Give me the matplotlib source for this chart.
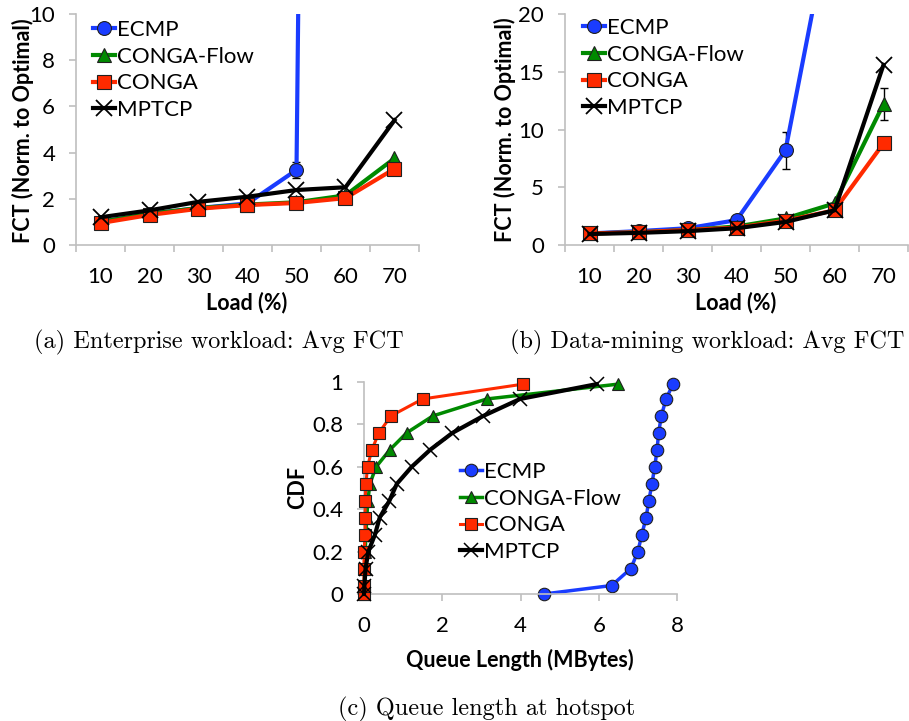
import numpy as np
import matplotlib
matplotlib.use('Agg')
import matplotlib.pyplot as plt

plt.rcParams['font.family'] = ['Lato', 'DejaVu Sans']

# ---- data ----
loads = [10, 20, 30, 40, 50, 60, 70]
series = ['ECMP', 'CONGA-Flow', 'CONGA', 'MPTCP']

# (a) enterprise workload, avg FCT (ECMP goes off-scale after 50%)
ent_ecmp = [1.0, 1.35, 1.6, 1.8, 3.25, 200.0, 1000.0]
ent_flow = [1.0, 1.35, 1.6, 1.75, 1.85, 2.15, 3.75]
ent_conga = [0.95, 1.3, 1.57, 1.73, 1.82, 2.03, 3.3]
ent_mptcp = [1.2, 1.5, 1.87, 2.09, 2.38, 2.5, 5.4]
ent_ecmp_err = [0, 0, 0, 0, 0.35, 0, 0]

# (b) data-mining workload, avg FCT
dm_ecmp = [1.0, 1.2, 1.45, 2.15, 8.2, 30.0, 60.0]
dm_flow = [1.0, 1.1, 1.3, 1.6, 2.3, 3.6, 12.2]
dm_conga = [1.0, 1.1, 1.3, 1.5, 2.1, 3.0, 8.8]
dm_mptcp = [0.95, 1.05, 1.2, 1.45, 2.0, 3.0, 15.6]
dm_ecmp_err = [0, 0, 0, 0, 1.6, 0, 0]
dm_flow_err = [0, 0, 0, 0, 0, 0, 1.4]

# (c) queue length CDF at hotspot
cdf = [0.0, 0.04, 0.12, 0.2, 0.28, 0.36, 0.44, 0.52, 0.6, 0.68, 0.76, 0.84, 0.92, 0.99]
q_ecmp = [4.6, 6.33, 6.82, 7.0, 7.1, 7.21, 7.28, 7.36, 7.43, 7.49, 7.53, 7.6, 7.72, 7.9]
q_flow = [0.0, 0.01, 0.02, 0.03, 0.05, 0.07, 0.1, 0.15, 0.31, 0.66, 1.09, 1.76, 3.14, 6.5]
q_conga = [0.0, 0.0, 0.0, 0.0, 0.03, 0.03, 0.03, 0.05, 0.09, 0.2, 0.38, 0.69, 1.5, 4.07]
q_mptcp = [0.0, 0.01, 0.04, 0.11, 0.28, 0.4, 0.65, 0.84, 1.22, 1.69, 2.26, 3.05, 3.99, 5.95]

colors = ['#1a3cff', '#008a00', '#ff2a00', '#000000']
markers = ['o', '^', 's', 'x']
grey = '#bfbfbf'

W, H = 909, 721
fig = plt.figure(figsize=(W / 100, H / 100), dpi=100)


def px_axes(l, t, r, b):
    return fig.add_axes([l / W, 1 - b / H, (r - l) / W, (b - t) / H])


def style(ax):
    for s in ['top', 'right']:
        ax.spines[s].set_visible(False)
    for s in ['left', 'bottom']:
        ax.spines[s].set_color(grey)
        ax.spines[s].set_linewidth(1.2)
    ax.tick_params(which='both', color=grey, width=1.2, length=5,
                   labelsize=16, direction='out')


def add_legend(ax, x, y):
    ax.legend(loc='upper left', bbox_to_anchor=(x / W, 1 - y / H),
              bbox_transform=fig.transFigure, frameon=False, fontsize=16,
              handlelength=1.0, handletextpad=0.1, labelspacing=0.3,
              borderpad=0, borderaxespad=0, numpoints=1)


def fct_panel(ax, ymax, ystep, data, errs):
    x = np.arange(len(loads))
    for i, vals in enumerate(data):
        ax.plot(x, vals, color=colors[i], lw=3, marker=markers[i],
                ms=10 if markers[i] != 'x' else 12,
                mfc=colors[i], mec='#202020' if markers[i] != 'x' else 'black',
                mew=0.8 if markers[i] != 'x' else 1.3,
                label=series[i], zorder=2 + i)
        if errs[i] is not None:
            for j, e in enumerate(errs[i]):
                if e > 0:
                    ax.errorbar(x[j], vals[j], yerr=e, color='black', lw=1,
                                capsize=3, capthick=1, zorder=1.5)
    ax.set_xlim(-0.5, len(loads) - 0.5)
    ax.set_ylim(0, ymax)
    ax.set_yticks(np.arange(0, ymax + 0.1, ystep))
    ax.set_xticks(np.arange(len(loads) + 1) - 0.5)
    ax.set_xticklabels([])
    ax.set_xticks(x, minor=True)
    ax.set_xticklabels([str(v) for v in loads], minor=True)
    style(ax)
    ax.tick_params(axis='x', which='minor', length=0, pad=16)
    ax.tick_params(axis='y', pad=10)


# (a)
axa = px_axes(76, 14, 419, 245)
fct_panel(axa, 10, 2, [ent_ecmp, ent_flow, ent_conga, ent_mptcp],
          [ent_ecmp_err, None, None, None])
add_legend(axa, 93, 20)

# (b)
axb = px_axes(565, 14, 908, 245)
fct_panel(axb, 20, 5, [dm_ecmp, dm_flow, dm_conga, dm_mptcp],
          [dm_ecmp_err, dm_flow_err, None, None])
add_legend(axb, 583, 18)

# (c)
axc = px_axes(364, 382, 677, 594)
qdata = [q_ecmp, q_flow, q_conga, q_mptcp]
lws = [2.5, 2.5, 2.2, 3]
for i, q in enumerate(qdata):
    axc.plot(q, cdf, color=colors[i], lw=lws[i], marker=markers[i],
             ms=9 if markers[i] != 'x' else 10,
             mfc=colors[i], mec='#202020' if markers[i] != 'x' else 'black',
             mew=0.8 if markers[i] != 'x' else 1.1,
             label=series[i], clip_on=False, zorder=2 + i)
axc.set_xlim(0, 8)
axc.set_ylim(0, 1)
axc.set_xticks([0, 2, 4, 6, 8])
axc.set_yticks([0, 0.2, 0.4, 0.6, 0.8, 1])
axc.set_yticklabels(['0', '0.2', '0.4', '0.6', '0.8', '1'])
style(axc)
axc.tick_params(axis='x', pad=11)
axc.tick_params(axis='y', pad=10)
add_legend(axc, 460, 462)

# axis labels
lab = dict(fontsize=15.5, fontweight='bold')
fig.text(23 / W, 1 - 131 / H, 'FCT (Norm. to Optimal)', rotation=90,
         ha='center', va='center', **lab)
fig.text(505 / W, 1 - 130 / H, 'FCT (Norm. to Optimal)', rotation=90,
         ha='center', va='center', **lab)
fig.text(247 / W, 1 - 303 / H, 'Load (%)', ha='center', va='center', **lab)
fig.text(736 / W, 1 - 303 / H, 'Load (%)', ha='center', va='center', **lab)
fig.text(298 / W, 1 - 487 / H, 'CDF', rotation=90, ha='center', va='center', **lab)
fig.text(520 / W, 1 - 660 / H, 'Queue Length (MBytes)', ha='center', va='center', **lab)

# captions
cap = dict(fontsize=17.5, family='cmr10', ha='center', va='baseline')
fig.text(219 / W, 1 - 348 / H, '(a) Enterprise workload: Avg FCT', **cap)
fig.text(707 / W, 1 - 348 / H, '(b) Data-mining workload: Avg FCT', **cap)
fig.text(487 / W, 1 - 715 / H, '(c) Queue length at hotspot', **cap)

fig.savefig('out.png', dpi=100)
